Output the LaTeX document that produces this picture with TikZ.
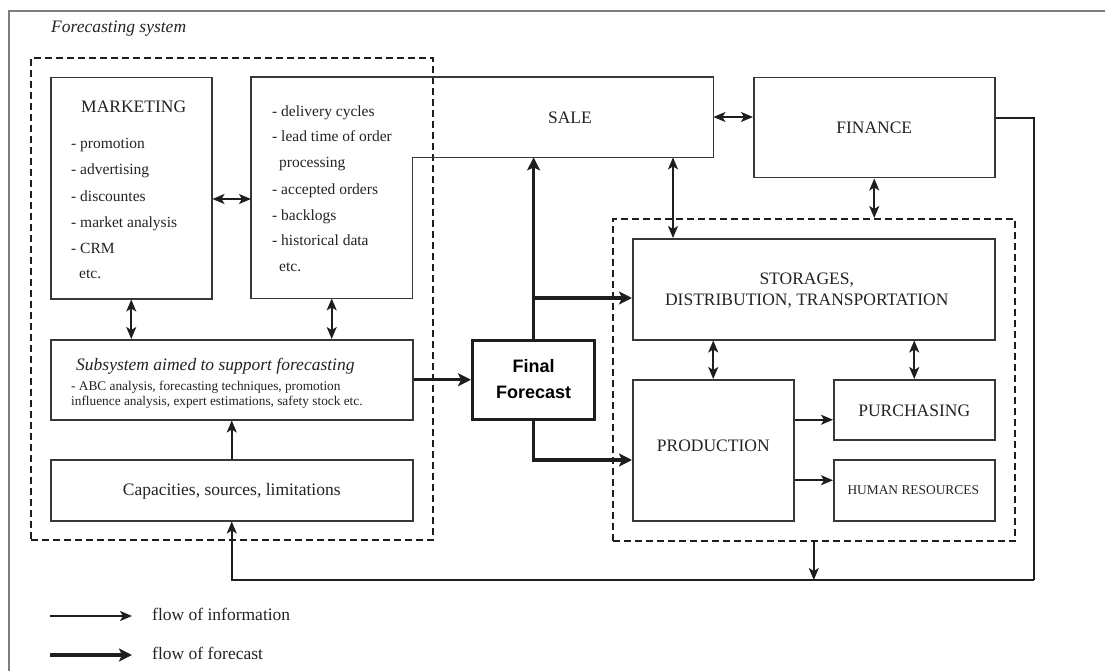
\documentclass[tikz,border=0pt]{standalone}
\usepackage{fontspec}
\setmainfont{Liberation Serif}
\newfontfamily\ffsans{Liberation Sans}
\usetikzlibrary{arrows.meta,calc}
\definecolor{ink}{RGB}{30,30,30}
\definecolor{boxline}{RGB}{55,55,55}
\definecolor{framegray}{RGB}{125,125,125}
\definecolor{txt}{RGB}{35,35,35}
\begin{document}
\begin{tikzpicture}[x=1pt,y=-1pt,
  box/.style={draw=boxline,line width=1.5pt,inner sep=0pt,anchor=north west},
  ghost/.style={inner sep=0pt,anchor=north west},
  dbox/.style={draw=ink,line width=1.6pt,dash pattern=on 7pt off 4pt,inner sep=0pt,anchor=north west},
  info/.style={draw=ink,line width=1.6pt,-{Stealth[length=12pt,width=10pt,inset=3pt]}},
  bi/.style={draw=ink,line width=1.6pt,{Stealth[length=12pt,width=10pt,inset=3pt]}-{Stealth[length=12pt,width=10pt,inset=3pt]}},
  fc/.style={draw=ink,line width=3.2pt,-{Stealth[length=13pt,width=13pt,inset=3pt]}},
  listtxt/.style={anchor=base west,inner sep=0pt,text=txt,font=\fontsize{15.5}{18}\selectfont},
  title/.style={inner sep=0pt,text=txt,font=\fontsize{17.5}{21}\selectfont},
]
\useasboundingbox (0,0) rectangle (1105,671);
\fill[white] (0,0) rectangle (1105,671);

% outer frame (cut by the picture edge)
\draw[framegray,line width=1.2pt] (1105,11) -- (9,11) -- (9,671);
\node[anchor=base west,inner sep=0pt,text=txt,font=\fontsize{17.5}{21}\selectfont\itshape] (fs) at (51,33) {Forecasting system};

% dashed groups
\node[dbox,minimum width=402pt,minimum height=482pt] (ldash) at (30,57) {};
\node[dbox,minimum width=402pt,minimum height=322pt] (rdash) at (612,218) {};

% boxes
\node[box,minimum width=161pt,minimum height=221pt] (mkt) at (50,77) {};
\node[ghost,minimum width=161pt,minimum height=221pt] (deliv) at (251,77) {};
\node[ghost,minimum width=462pt,minimum height=80pt] (sale) at (251,77) {};
\draw[boxline,line width=1.5pt] (deliv.north west) -- (sale.north east) -- (sale.south east)
  -- (deliv.east |- sale.south) -- (deliv.south east) -- (deliv.south west) -- cycle;
\node[box,minimum width=241pt,minimum height=100pt] (fin) at (753,77) {};
\node[box,minimum width=362pt,minimum height=80pt] (subsys) at (50,339) {};
\node[box,minimum width=362pt,minimum height=61pt] (cap) at (50,459) {};
\node[box,line width=3.2pt,draw=ink,minimum width=122pt,minimum height=79pt] (ff) at (471,339) {};
\node[box,minimum width=362pt,minimum height=101pt] (stor) at (632,238) {};
\node[box,minimum width=161pt,minimum height=141pt] (prod) at (632,379) {};
\node[box,minimum width=161pt,minimum height=60pt] (purch) at (833,379) {};
\node[box,minimum width=161pt,minimum height=61pt] (hr) at (833,459) {};

% texts
\node[title,anchor=base west] (mkttitle) at (81,113) {MARKETING};
\node[listtxt] (m1) at (71,149) {- promotion};
\node[listtxt] (m2) at (71,175) {- advertising};
\node[listtxt] (m3) at (71,201) {- discountes};
\node[listtxt] (m4) at (71,227) {- market analysis};
\node[listtxt] (m5) at (71,253) {- CRM};
\node[listtxt] (m6) at (79,278) {etc.};

\node[listtxt] (d1) at (272,117) {- delivery cycles};
\node[listtxt] (d2) at (272,142) {- lead time of order};
\node[listtxt] (d3) at (279,168) {processing};
\node[listtxt] (d4) at (272,194) {- accepted orders};
\node[listtxt] (d5) at (272,220) {- backlogs};
\node[listtxt] (d6) at (272,245) {- historical data};
\node[listtxt] (d7) at (279,271) {etc.};

\node[title] (saletxt) at (570,118) {SALE};
\node[title] at (fin.center) {FINANCE};
\node[title,align=center] at ($(stor.center)+(-7,1)$) {STORAGES,\\DISTRIBUTION, TRANSPORTATION};
\node[title] at ($(prod.center)+(0,-4)$) {PRODUCTION};
\node[title] at ($(purch.center)+(0,1)$) {PURCHASING};
\node[title,font=\fontsize{13.4}{16}\selectfont] at ($(hr.center)+(-1,0)$) {HUMAN RESOURCES};

\node[anchor=base west,inner sep=0pt,text=txt,font=\fontsize{17.5}{21}\selectfont\itshape] (sst) at (76,370) {Subsystem aimed to support forecasting};
\node[anchor=base west,inner sep=0pt,text=txt,font=\fontsize{13.3}{15}\selectfont] (ss1) at (71,390) {- ABC analysis, forecasting techniques, promotion};
\node[anchor=base west,inner sep=0pt,text=txt,font=\fontsize{13.3}{15}\selectfont] (ss2) at (71,405) {influence analysis, expert estimations, safety stock etc.};
\node[title] at ($(cap.center)+(0,1)$) {Capacities, sources, limitations};
\node[inner sep=0pt,text=black,align=center,font=\ffsans\bfseries\fontsize{18}{26}\selectfont] at ($(ff.center)+(0,-1)$) {Final\\Forecast};

% information arrows
\draw[bi] (mkt.east |- 0,199) -- (deliv.west |- 0,199);
\draw[bi] (mkt.south) -- (mkt.south |- subsys.north);
\draw[bi] (deliv.south) -- (deliv.south |- subsys.north);
\draw[info] (cap.north) -- (subsys.south);
\draw[bi] (sale.east |- 0,117) -- (fin.west |- 0,117);
\coordinate (ss) at ($(stor.north west)+(41,0)$);
\draw[bi] (ss |- sale.south) -- (ss);
\draw[bi] (fin.south) -- (fin.south |- rdash.north);
\draw[bi] (prod.north) -- (prod.north |- stor.south);
\draw[bi] (purch.north) -- (purch.north |- stor.south);
\coordinate (p1) at ($(purch.west)+(0,10)$);
\coordinate (p2) at ($(hr.west)+(0,-10)$);
\draw[info] (prod.east |- p1) -- (p1);
\draw[info] (prod.east |- p2) -- (p2);
\coordinate (lc) at (1034,580);
\coordinate (fr) at ($(fin.east)+(0,-10)$);
\draw[info,-] (fr) -| (lc);
\draw[info] (lc) -| (cap.south);
\draw[info] (rdash.south) -- (rdash.south |- lc);

% forecast arrows
\draw[fc] (subsys.east) -- (subsys.east -| ff.west);
\draw[fc] (ff.north) -- (ff.north |- sale.south);
\coordinate (br1) at ($(ff.north)+(0,-41)$);
\draw[fc] (br1) -- (br1 -| stor.west);
\coordinate (pin) at ($(prod.north west)+(0,81)$);
\draw[fc] (ff.south) |- (pin);

% legend
\coordinate (la) at (50,616);
\coordinate (lb) at (132,616);
\draw[info] (la) -- (lb);
\node[anchor=base west,inner sep=0pt,text=txt,font=\fontsize{17.5}{21}\selectfont] (lt1) at (152,620) {flow of information};
\coordinate (lc2) at (50,655);
\coordinate (ld2) at (132,655);
\draw[fc] (lc2) -- (ld2);
\node[anchor=base west,inner sep=0pt,text=txt,font=\fontsize{17.5}{21}\selectfont] (lt2) at (152,659) {flow of forecast};
\end{tikzpicture}
\end{document}
